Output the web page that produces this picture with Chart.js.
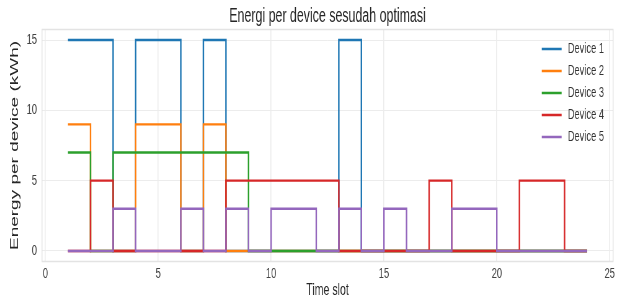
<!DOCTYPE html>
<html><head><meta charset="utf-8">
<script src="https://cdn.jsdelivr.net/npm/chart.js@4.4.0/dist/chart.umd.min.js"></script>
<style>html,body{margin:0;padding:0;background:#fff;overflow:hidden}canvas{display:block}</style>
</head><body>
<canvas id="c" width="1016" height="299" style="width:630px;height:299px"></canvas>
<script>
const timeSlots = [1,2,3,4,5,6,7,8,9,10,11,12,13,14,15,16,17,18,19,20,21,22,23,24];
const device1 = [15,15,0,15,15,0,15,0,0,0,0,0,15,0,0,0,0,0,0,0,0,0,0,0];
const device2 = [9,0,0,9,9,0,9,0,0,0,0,0,0,0,0,0,0,0,0,0,0,0,0,0];
const device3 = [7,0,7,7,7,7,7,7,0,0,0,0,0,0,0,0,0,0,0,0,0,0,0,0];
const device4 = [0,5,0,0,0,0,0,5,5,5,5,5,0,0,0,0,5,0,0,0,5,5,0,0];
const device5 = [0,0,3,0,0,3,0,3,0,3,3,0,3,0,3,0,0,3,3,0,0,0,0,0];
const seriesNames = ['Device 1','Device 2','Device 3','Device 4','Device 5'];
const seriesColors = ['#1f77b4','#ff7f0e','#2ca02c','#d62728','#9467bd'];
const xTicks = [0,5,10,15,20,25];
const yTicks = [0,5,10,15];
const titleText = 'Energi per device sesudah optimasi';
const xLabel = 'Time slot';
const yLabel = 'Energy per device (kWh)';

const FONT = '"Liberation Sans", Arial, sans-serif';
const allSeries = [device1, device2, device3, device4, device5];
const datasets = allSeries.map((vals, i) => ({
  label: seriesNames[i],
  data: timeSlots.map((t, j) => ({x: t, y: vals[j]})),
  borderColor: seriesColors[i],
  backgroundColor: seriesColors[i],
  borderWidth: 2.4,
  stepped: 'before',
  pointRadius: 0,
  fill: false,
  order: allSeries.length - i
}));

const framePlugin = {
  id: 'frame',
  beforeDatasetsDraw(chart) {
    const {ctx, chartArea: a} = chart;
    ctx.save();
    ctx.strokeStyle = '#e3e3e3';
    ctx.lineWidth = 1.5;
    ctx.strokeRect(a.left, a.top, a.right - a.left, a.bottom - a.top);
    ctx.restore();
  }
};
const titlePlugin = {
  id: 'axesTitle',
  afterDraw(chart) {
    const {ctx, chartArea: a} = chart;
    ctx.save();
    ctx.font = '20px ' + FONT;
    ctx.fillStyle = '#262626';
    ctx.textAlign = 'center';
    ctx.textBaseline = 'middle';
    ctx.fillText(titleText, (a.left + a.right) / 2, 16);
    ctx.restore();
  }
};
const legendPlugin = {
  id: 'innerLegend',
  afterDraw(chart) {
    const {ctx, chartArea: a} = chart;
    ctx.save();
    ctx.font = '15px ' + FONT;
    ctx.textBaseline = 'middle';
    ctx.textAlign = 'left';
    chart.data.datasets.forEach((ds, i) => {
      const y = a.top + 19.5 + i * 22;
      ctx.strokeStyle = ds.borderColor;
      ctx.lineWidth = 2.4;
      ctx.beginPath();
      ctx.moveTo(a.right - 115, y);
      ctx.lineTo(a.right - 83, y);
      ctx.stroke();
      ctx.fillStyle = '#333';
      ctx.fillText(ds.label, a.right - 73, y);
    });
    ctx.restore();
  }
};

new Chart(document.getElementById('c'), {
  type: 'line',
  data: {datasets},
  plugins: [framePlugin, titlePlugin, legendPlugin],
  options: {
    responsive: false,
    devicePixelRatio: 1,
    animation: false,
    layout: {padding: {top: 29.5, right: 27.3, bottom: 0, left: 0}},
    plugins: {
      legend: {display: false},
      tooltip: {enabled: false},
      title: {display: false}
    },
    scales: {
      x: {
        type: 'linear',
        min: -0.15,
        max: 25.15,
        afterBuildTicks: s => { s.ticks = xTicks.map(v => ({value: v})); },
        afterFit: s => { s.height = 37.5; },
        grid: {color: '#ececec', lineWidth: 1.6, drawTicks: false},
        border: {display: false},
        ticks: {color: '#444', padding: 3, font: {family: FONT, size: 15}, maxRotation: 0},
        title: {display: true, text: xLabel, color: '#262626', font: {family: FONT, size: 17, lineHeight: 1}, padding: {top: 0, bottom: 0}}
      },
      y: {
        type: 'linear',
        min: -0.75,
        max: 15.75,
        afterBuildTicks: s => { s.ticks = yTicks.map(v => ({value: v})); },
        afterFit: s => { s.width = 67.7; },
        grid: {color: '#ececec', lineWidth: 1, drawTicks: false},
        border: {display: false},
        ticks: {color: '#444', padding: 8, font: {family: FONT, size: 15}},
        title: {display: true, text: yLabel, color: '#262626', font: {family: FONT, size: 19, lineHeight: 1.2}, padding: {top: 12, bottom: 0}}
      }
    }
  }
});
</script>
</body></html>
